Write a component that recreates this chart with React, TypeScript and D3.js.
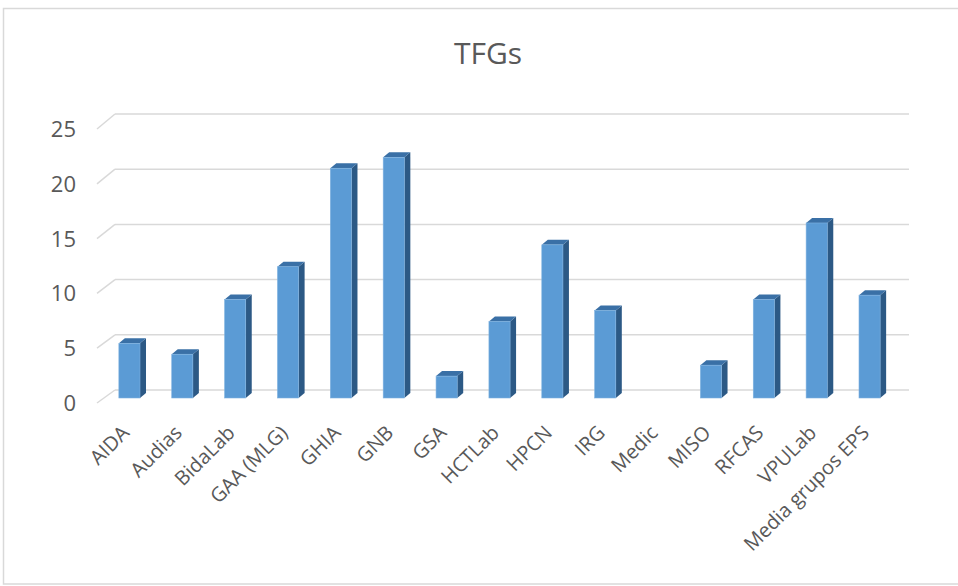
import React from "react";
import * as d3 from "d3";

const categories = ["AIDA", "Audias", "BidaLab", "GAA (MLG)", "GHIA", "GNB", "GSA", "HCTLab", "HPCN", "IRG", "Medic", "MISO", "RFCAS", "VPULab", "Media grupos EPS"];
const values = [5, 4, 9, 12, 21, 22, 2, 7, 14, 8, 0, 3, 9, 16, 9.4];
const yTicks = [0, 5, 10, 15, 20, 25];
const title = "TFGs";

const W = 958, H = 586;
const FONT = "'Open Sans', sans-serif";

export default function App() {
  const x = d3.scaleBand<string>().domain(categories).range([103, 896]).padding(0);
  const yBar = d3.scaleLinear().domain([0, 25]).range([398, 124.5]);
  const yBack = d3.scaleLinear().domain([0, 25]).range([390, 114]);
  const yFront = d3.scaleLinear().domain([0, 25]).range([403, 129]);
  const step = x.step();
  const bw = step * 0.4;
  const dx = 6, dy = -5;
  const backL = 115, backR = 909, frontL = 97;

  return (
    <svg width={W} height={H} style={{ position: "absolute", left: 0, top: 0, background: "#fff" }}>
      <rect x={3.5} y={8.5} width={W + 10} height={575.5} fill="#fff" stroke="#d9d9d9" strokeWidth={1.5} />
      <text x={488} y={64} textAnchor="middle" fontFamily={FONT} fontSize={30} fill="#595959">{title}</text>
      {yTicks.map((t) => (
        <g key={t}>
          <line x1={backL} x2={backR} y1={yBack(t)} y2={yBack(t)} stroke="#d9d9d9" strokeWidth={1.5} />
          <line x1={frontL} x2={backL} y1={yFront(t)} y2={yBack(t)} stroke="#d9d9d9" strokeWidth={1.5} />
          <text x={76} y={yFront(t)} dy="0.36em" textAnchor="end" fontFamily={FONT} fontSize={22} fill="#595959">{t}</text>
        </g>
      ))}
      {categories.map((c, i) => {
        const v = values[i];
        const cx = (x(c) as number) + step / 2;
        const x0 = cx - bw / 2, x1 = cx + bw / 2;
        const yb = yBar(0), yt = yBar(v);
        return (
          <g key={c}>
            {v > 0 && (
              <g>
                <path d={`M${x1},${yb} L${x1 + dx},${yb + dy} L${x1 + dx},${yt + dy} L${x1},${yt} Z`} fill="#2c5985" />
                <path d={`M${x0},${yt} L${x0 + dx},${yt + dy} L${x1 + dx},${yt + dy} L${x1},${yt} Z`} fill="#3a70a6" />
                <rect x={x0} y={yt} width={bw} height={yb - yt} fill="#5b9bd5" stroke="#7fb2e0" strokeWidth={0.6} />
              </g>
            )}
            <text
              transform={`translate(${cx + 1},${434}) rotate(-45)`}
              textAnchor="end"
              fontFamily={FONT}
              fontSize={20}
              fill="#595959"
            >{c}</text>
          </g>
        );
      })}
    </svg>
  );
}
